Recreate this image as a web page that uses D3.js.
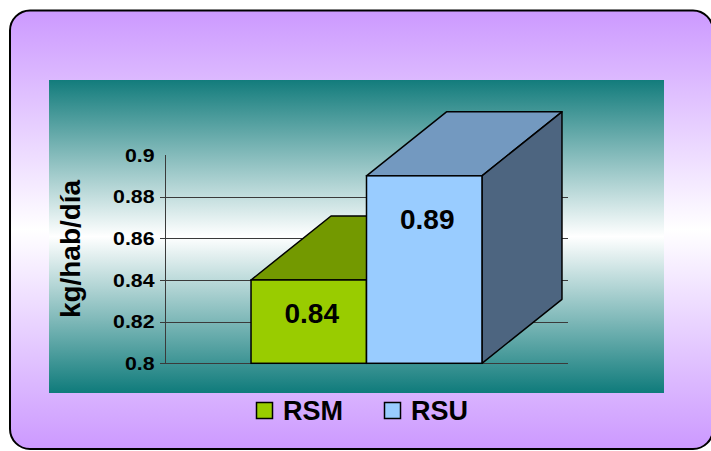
<!DOCTYPE html>
<html>
<head>
<meta charset="utf-8">
<script src="https://cdn.jsdelivr.net/npm/d3@7"></script>
<style>
  body { margin: 0; background: #fff; }
  svg { display: block; font-family: "Liberation Sans", Arial, sans-serif; }
</style>
</head>
<body>
<div id="chart"></div>
<script>
// data
const categories = ["RSM", "RSU"];
const values = [0.84, 0.89];
const tickValues = [0.8, 0.82, 0.84, 0.86, 0.88, 0.9];
const axisTitle = "kg/hab/día";

// colours per series
const frontColors = ["#99cc00", "#99ccff"];
const topColors = ["#739900", "#7399c0"];
const sideColors = ["#4d6600", "#4d6580"];

const W = 711, H = 451;
const plot = { x0: 49, x1: 664, y0: 80, y1: 393 };
const depth = { dx: 80, dy: -64 };

const svg = d3.select("#chart").append("svg")
  .attr("width", W).attr("height", H);

const defs = svg.append("defs");
const outerGrad = defs.append("linearGradient")
  .attr("id", "outerGrad").attr("x1", 0).attr("y1", 0).attr("x2", 0).attr("y2", 1);
outerGrad.append("stop").attr("offset", "0%").attr("stop-color", "#cc99ff");
outerGrad.append("stop").attr("offset", "50%").attr("stop-color", "#ffffff");
outerGrad.append("stop").attr("offset", "100%").attr("stop-color", "#cc99ff");

const plotGrad = defs.append("linearGradient")
  .attr("id", "plotGrad").attr("x1", 0).attr("y1", 0).attr("x2", 0).attr("y2", 1);
plotGrad.append("stop").attr("offset", "0%").attr("stop-color", "#137c7c");
plotGrad.append("stop").attr("offset", "50%").attr("stop-color", "#ffffff");
plotGrad.append("stop").attr("offset", "100%").attr("stop-color", "#0f7b7b");

// outer rounded frame (right edge runs just past the window)
svg.append("rect")
  .attr("x", 10).attr("y", 10.5)
  .attr("width", 703).attr("height", 438.5)
  .attr("rx", 20).attr("ry", 20)
  .attr("fill", "url(#outerGrad)")
  .attr("stroke", "#000").attr("stroke-width", 2);

// plot area
svg.append("rect")
  .attr("x", plot.x0).attr("y", plot.y0)
  .attr("width", plot.x1 - plot.x0).attr("height", plot.y1 - plot.y0)
  .attr("fill", "url(#plotGrad)");

// scales
const x = d3.scaleBand()
  .domain(categories)
  .range([165, 568])
  .paddingInner(0)
  .paddingOuter(0.745);

const y = d3.scaleLinear()
  .domain([0.8, 0.9])
  .range([363.3, 155]);

// gridlines (no line at the top tick)
svg.append("g").attr("class", "grid")
  .selectAll("line")
  .data(tickValues.filter(d => d < 0.9))
  .enter().append("line")
  .attr("x1", 160).attr("x2", 568)
  .attr("y1", d => Math.round(y(d)) + 0.5)
  .attr("y2", d => Math.round(y(d)) + 0.5)
  .attr("stroke", "#3a3a3a").attr("stroke-width", 1);

// y axis labels
const yAxis = svg.append("g")
  .attr("class", "y-axis")
  .attr("transform", "translate(165,0)")
  .call(d3.axisLeft(y).tickValues(tickValues).tickSize(0).tickPadding(10.5)
    .tickFormat(d => String(d)));
yAxis.select(".domain").remove();
yAxis.selectAll("text")
  .attr("font-size", 19).attr("font-weight", "bold").attr("fill", "#000")
  .attr("font-family", "'Liberation Sans', Arial, sans-serif")
  .each(function () {
    // labels in the picture are a little wider than the plain font
    const w = this.getComputedTextLength();
    d3.select(this).attr("textLength", w * 1.12).attr("lengthAdjust", "spacingAndGlyphs");
  });

svg.append("line")
  .attr("x1", 165.5).attr("x2", 165.5)
  .attr("y1", y(0.9)).attr("y2", y(0.8))
  .attr("stroke", "#3a3a3a").attr("stroke-width", 1);

// 3D bars
const y0 = y(0.8);
const bars = svg.append("g").attr("class", "bars")
  .selectAll("g")
  .data(categories.map((c, i) => ({ cat: c, value: values[i], i })))
  .enter().append("g");

const pts = arr => arr.map(p => p.join(",")).join(" ");

bars.append("polygon") // top face
  .attr("points", d => {
    const xl = x(d.cat), xr = x(d.cat) + x.bandwidth(), yt = y(d.value);
    return pts([[xl, yt], [xr, yt], [xr + depth.dx, yt + depth.dy], [xl + depth.dx, yt + depth.dy]]);
  })
  .attr("fill", d => topColors[d.i])
  .attr("stroke", "#000").attr("stroke-width", 1.5).attr("stroke-linejoin", "round");

bars.append("polygon") // side face
  .attr("points", d => {
    const xr = x(d.cat) + x.bandwidth(), yt = y(d.value);
    return pts([[xr, yt], [xr + depth.dx, yt + depth.dy], [xr + depth.dx, y0 + depth.dy], [xr, y0]]);
  })
  .attr("fill", d => sideColors[d.i])
  .attr("stroke", "#000").attr("stroke-width", 1.5).attr("stroke-linejoin", "round");

bars.append("rect") // front face
  .attr("x", d => x(d.cat))
  .attr("y", d => y(d.value))
  .attr("width", x.bandwidth())
  .attr("height", d => y0 - y(d.value))
  .attr("fill", d => frontColors[d.i])
  .attr("stroke", "#000").attr("stroke-width", 1.5);

bars.append("text") // value labels
  .attr("x", d => x(d.cat) + x.bandwidth() / 2 + 3)
  .attr("y", d => Math.min(y(d.value) + 53, (y(d.value) + y0) / 2 + 1))
  .attr("text-anchor", "middle")
  .attr("font-size", 28).attr("font-weight", "bold")
  .text(d => d.value);

// y axis title
svg.append("text")
  .attr("transform", "translate(80,249) rotate(-90)")
  .attr("text-anchor", "middle")
  .attr("font-size", 27).attr("font-weight", "bold")
  .attr("textLength", 138).attr("lengthAdjust", "spacingAndGlyphs")
  .text(axisTitle);

// legend
const legendX = [256, 384];
const legend = svg.append("g").attr("class", "legend")
  .selectAll("g")
  .data(categories)
  .enter().append("g")
  .attr("transform", (d, i) => `translate(${legendX[i]},402)`);

legend.append("rect")
  .attr("x", 0.5).attr("y", 0.5)
  .attr("width", 16).attr("height", 16)
  .attr("fill", (d, i) => frontColors[i])
  .attr("stroke", "#000").attr("stroke-width", 1.5);

legend.append("text")
  .attr("x", 27).attr("y", 18)
  .attr("font-size", 27).attr("font-weight", "bold")
  .text(d => d);
</script>
</body>
</html>
